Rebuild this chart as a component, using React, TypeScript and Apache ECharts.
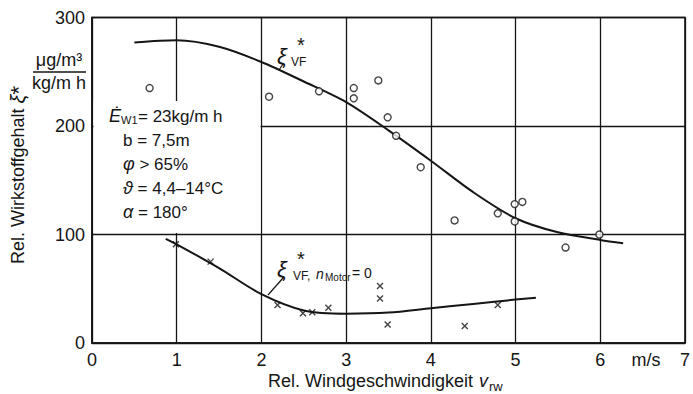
import React, { useEffect, useRef } from "react";
import * as echarts from "echarts";

const xTicks = [0, 1, 2, 3, 4, 5, 6, 7];
const yTicks = [0, 100, 200, 300];

// ξ*VF measured points (circles)
const vfPointsX = [0.68, 2.09, 2.68, 3.09, 3.09, 3.38, 3.49, 3.59, 3.88, 4.28, 4.79, 4.99, 5.08, 4.99, 5.59, 5.99];
const vfPointsY = [235, 227, 232, 235, 225.5, 242, 208, 191, 162, 113, 119.5, 128, 130, 112, 88, 100];
// ξ*VF fitted curve
const vfCurveX = [0.5, 1.0, 1.5, 2.0, 2.5, 3.0, 3.5, 4.0, 4.5, 5.0, 5.5, 6.0, 6.27];
const vfCurveY = [277, 279, 273, 259, 241, 222, 196, 168, 139, 115, 102, 95, 92];

// ξ*VF, nMotor = 0 measured points (crosses)
const motorPointsX = [0.99, 1.4, 2.19, 2.49, 2.6, 2.79, 3.4, 3.4, 3.49, 4.4, 4.79];
const motorPointsY = [91, 75, 35, 27.4, 28.3, 32.5, 52.5, 41, 17, 15.7, 35];
// fitted curve
const motorCurveX = [0.87, 1.0, 1.5, 2.0, 2.5, 3.0, 3.5, 4.0, 4.5, 5.0, 5.24];
const motorCurveY = [96, 91, 69, 45, 30, 27, 28, 32, 36, 40, 41.7];

const FONT = '"Liberation Sans", Arial, sans-serif';
const INK = "#151515";

const zip = (xs: number[], ys: number[]) => xs.map((x, i) => [x, ys[i]]);

function txt(x: number, y: number, text: string, size: number, opts: any = {}) {
  return {
    type: "text",
    x,
    y,
    z: 10,
    rotation: opts.rotation || 0,
    style: {
      text,
      fill: INK,
      fontSize: size,
      fontFamily: FONT,
      fontStyle: opts.italic ? "italic" : "normal",
      align: opts.align || "left",
      verticalAlign: "middle",
      textAlign: opts.align || "left",
      textVerticalAlign: "middle",
      rich: opts.rich,
    },
  };
}

const italicRich = { i: { fontSize: 18, fontStyle: "italic", fontFamily: FONT, color: INK } };

export default function App() {
  const ref = useRef<HTMLDivElement>(null);
  useEffect(() => {
    const chart = echarts.init(ref.current!, null, { renderer: "svg" });
    const splitStyle = { color: INK, width: 1.3 };
    const option: any = {
      animation: false,
      backgroundColor: "#fff",
      grid: {
        left: 92,
        right: 4,
        top: 17.5,
        bottom: 51,
        show: true,
        borderColor: INK,
        borderWidth: 1.6,
        backgroundColor: "transparent",
      },
      xAxis: {
        type: "value",
        min: xTicks[0],
        max: xTicks[xTicks.length - 1],
        interval: 1,
        axisLine: { show: true, lineStyle: { color: INK, width: 1.6 } },
        axisTick: { show: false },
        splitLine: { show: true, lineStyle: splitStyle },
        axisLabel: {
          color: INK,
          fontSize: 18,
          fontFamily: FONT,
          margin: 8,
          formatter: (v: number) => (xTicks.includes(v) ? String(v) : ""),
        },
      },
      yAxis: {
        type: "value",
        min: yTicks[0],
        max: yTicks[yTicks.length - 1],
        interval: 100,
        axisLine: { show: true, lineStyle: { color: INK, width: 1.6 } },
        axisTick: { show: false },
        splitLine: { show: true, lineStyle: splitStyle },
        axisLabel: {
          color: INK,
          fontSize: 18,
          fontFamily: FONT,
          margin: 7,
          formatter: (v: number) => (yTicks.includes(v) ? String(v) : ""),
        },
      },
      series: [
        {
          type: "line",
          data: zip(vfCurveX, vfCurveY),
          smooth: 0.3,
          showSymbol: false,
          lineStyle: { color: INK, width: 2 },
          z: 3,
        },
        {
          type: "line",
          data: zip(motorCurveX, motorCurveY),
          smooth: 0.3,
          showSymbol: false,
          lineStyle: { color: INK, width: 2 },
          z: 3,
        },
        {
          type: "scatter",
          data: zip(vfPointsX, vfPointsY),
          symbol: "circle",
          symbolSize: 7,
          itemStyle: { color: "#fff", borderColor: INK, borderWidth: 1.4 },
          z: 4,
        },
        {
          type: "scatter",
          data: zip(motorPointsX, motorPointsY),
          symbol: "path://M0,0L10,10M0,10L10,0",
          symbolSize: 6,
          itemStyle: { color: INK, borderColor: INK, borderWidth: 1.4 },
          z: 4,
        },
      ],
      graphic: [
        // white box hiding grid lines behind the parameter annotations
        {
          type: "rect",
          z: 1,
          shape: { x: 93.5, y: 101, width: 167, height: 132 },
          style: { fill: "#fff" },
        },
        // unit fraction
        txt(59, 60, "μg/m³", 18, { align: "center" }),
        {
          type: "line",
          z: 10,
          shape: { x1: 33, y1: 72, x2: 86, y2: 72 },
          style: { stroke: INK, lineWidth: 1.4 },
        },
        txt(59, 83, "kg/m h", 18, { align: "center" }),
        // y axis title
        txt(18, 175, "{a|Rel. Wirkstoffgehalt }{x|ξ}{s|*}", 18, {
          align: "center",
          rotation: Math.PI / 2,
          rich: {
            a: { fontSize: 18, fontFamily: FONT, color: INK },
            x: { fontSize: 20, fontFamily: FONT, fontStyle: "italic", color: INK },
            s: { fontSize: 22, fontFamily: FONT, color: INK },
          },
        }),
        // x axis title
        txt(268, 381, "Rel. Windgeschwindigkeit", 18),
        txt(479, 381, "v", 18, { italic: true }),
        txt(489, 386, "rw", 13),
        txt(646, 360, "m/s", 18, { align: "center" }),
        // parameters
        txt(109, 116, "Ė", 18, { italic: true }),
        txt(121, 120, "W1", 11),
        txt(138, 116, "= 23kg/m h", 17),
        txt(123, 140, "b = 7,5m", 17),
        txt(123, 164, "{i|φ} > 65%", 17, { rich: italicRich }),
        txt(123, 188, "{i|ϑ} = 4,4–14°C", 17, { rich: italicRich }),
        txt(123, 212, "{i|α} = 180°", 17, { rich: italicRich }),
        // curve label 1
        txt(277, 56, "ξ", 22, { italic: true }),
        txt(297, 45, "*", 20),
        txt(291, 62, "VF", 12),
        {
          type: "line",
          z: 10,
          shape: { x1: 283, y1: 64, x2: 279, y2: 70 },
          style: { stroke: INK, lineWidth: 1.2 },
        },
        // curve label 2
        txt(277, 269, "ξ", 22, { italic: true }),
        txt(297, 259, "*", 20),
        txt(293, 276, "VF,", 12),
        txt(316, 274, "n", 14, { italic: true }),
        txt(325, 277, "Motor", 10),
        txt(352, 273, "= 0", 14),
        {
          type: "line",
          z: 10,
          shape: { x1: 283, y1: 278, x2: 268, y2: 295 },
          style: { stroke: INK, lineWidth: 1.2 },
        },
      ],
    };
    chart.setOption(option);
    return () => chart.dispose();
  }, []);
  return (
    <div
      ref={ref}
      style={{ position: "fixed", left: 0, top: 0, width: 693, height: 394, background: "#fff" }}
    />
  );
}
